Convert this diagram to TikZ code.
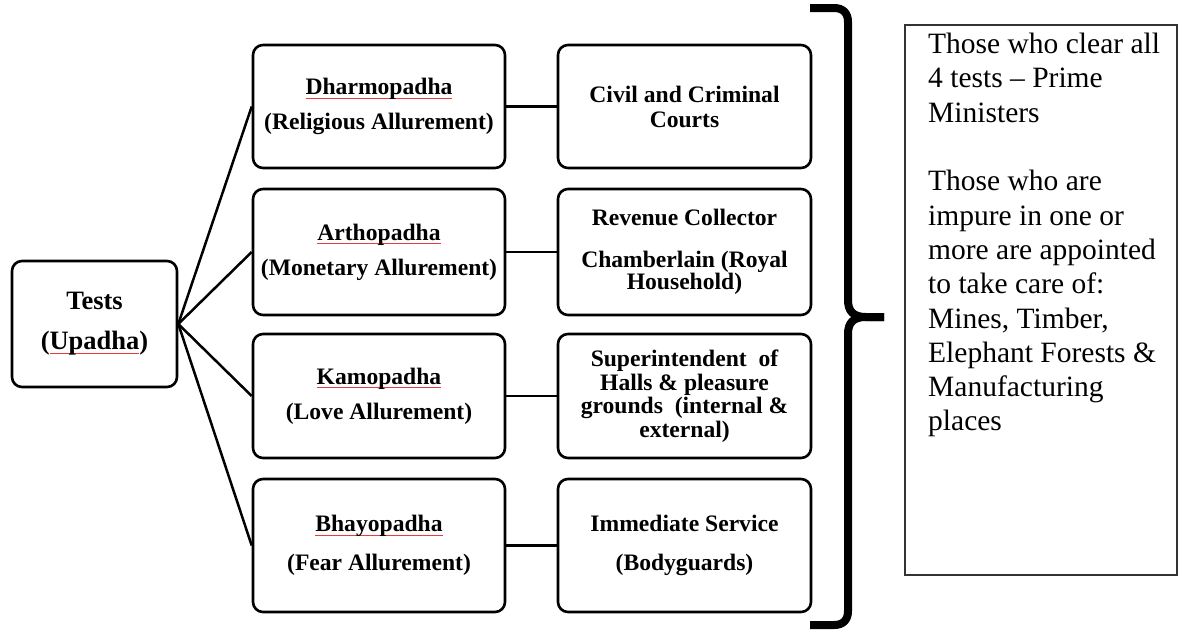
\documentclass[tikz,border=0pt]{standalone}
\usepackage{fontspec}
\setmainfont{Liberation Serif}
\definecolor{spellred}{RGB}{235,60,60}
\newcommand\spellmark[1]{\setbox0=\hbox{#1}\rlap{\color{spellred}\rule[-3.5pt]{\wd0}{0.5pt}}\box0}
\tikzset{
  stagebox/.style={draw=black, line width=2.6pt, rounded corners=10pt, align=center, inner sep=0pt},
  midfont/.style={font=\bfseries\fontsize{23.6}{35}\selectfont},
  link/.style={draw=black, line width=2.5pt},
  bracestroke/.style={draw=black, line width=8pt, line cap=butt, line join=round},
  notebox/.style={draw=black!80, line width=1.3pt, inner sep=0pt},
}
\begin{document}
\begin{tikzpicture}[x=1pt,y=-1pt]
\useasboundingbox (0,0) rectangle (1181,633);

\node[stagebox, minimum width=165pt, minimum height=126pt, font=\bfseries\fontsize{26.5}{40}\selectfont] (t) at (94.5,324) {Tests\\(\spellmark{Upadha})};

\node[stagebox, midfont, minimum width=252pt, minimum height=123pt] (m1) at (379,106.5) {\spellmark{Dharmopadha}\\(Religious Allurement)};
\node[stagebox, midfont, minimum width=252pt, minimum height=126pt] (m2) at (379,252) {\spellmark{Arthopadha}\\(Monetary Allurement)};
\node[stagebox, midfont, minimum width=252pt, minimum height=124pt] (m3) at (379,396) {\spellmark{Kamopadha}\\(Love Allurement)};
\node[stagebox, font=\bfseries\fontsize{23.6}{38.5}\selectfont, minimum width=252pt, minimum height=133pt] (m4) at (379,545.5) {\spellmark{Bhayopadha}\\(Fear Allurement)};

\node[stagebox, font=\bfseries\fontsize{23.6}{25}\selectfont, minimum width=253pt, minimum height=123pt] (r1) at (684.5,106.5) {Civil and Criminal\\Courts};
\node[stagebox, font=\bfseries\fontsize{23.6}{21.5}\selectfont, minimum width=253pt, minimum height=126pt] (r2) at (684.5,252) {Revenue Collector\\[20.5pt]Chamberlain (Royal\\Household)};
\node[stagebox, font=\bfseries\fontsize{23.6}{23.5}\selectfont, minimum width=253pt, minimum height=124pt] (r3) at (684.5,396) {Superintendent\ \ of\\Halls \& pleasure\\grounds\ \ (internal \&\\external)};
\node[stagebox, font=\bfseries\fontsize{23.6}{38.5}\selectfont, minimum width=253pt, minimum height=133pt] (r4) at (684.5,545.5) {Immediate Service\\(Bodyguards)};

\foreach \i in {1,2,3,4}{
  \draw[link] (t.east) -- (m\i.west);
  \draw[link] (m\i.east) -- (r\i.west);
}

\draw[bracestroke] (810,8) -- (834,8) .. controls (843,8) and (848,13) .. (848,22) -- (848,300) .. controls (848,311) and (853,317) .. (866,317) -- (884,317);
\draw[bracestroke] (884,317) -- (866,317) .. controls (853,317) and (848,323) .. (848,334) -- (848,611) .. controls (848,620) and (843,625) .. (834,625) -- (810,625);

\node[notebox, minimum width=272pt, minimum height=550pt] (note) at (1041,300) {};
\node[anchor=north west, inner sep=0pt, align=left, font=\fontsize{29.5}{34.3}\selectfont] (notetext) at (928,33) {Those who clear all\\4 tests -- Prime\\Ministers\\[34.3pt]Those who are\\impure in one or\\more are appointed\\to take care of:\\Mines, Timber,\\Elephant Forests \&\\Manufacturing\\places};
\end{tikzpicture}
\end{document}
